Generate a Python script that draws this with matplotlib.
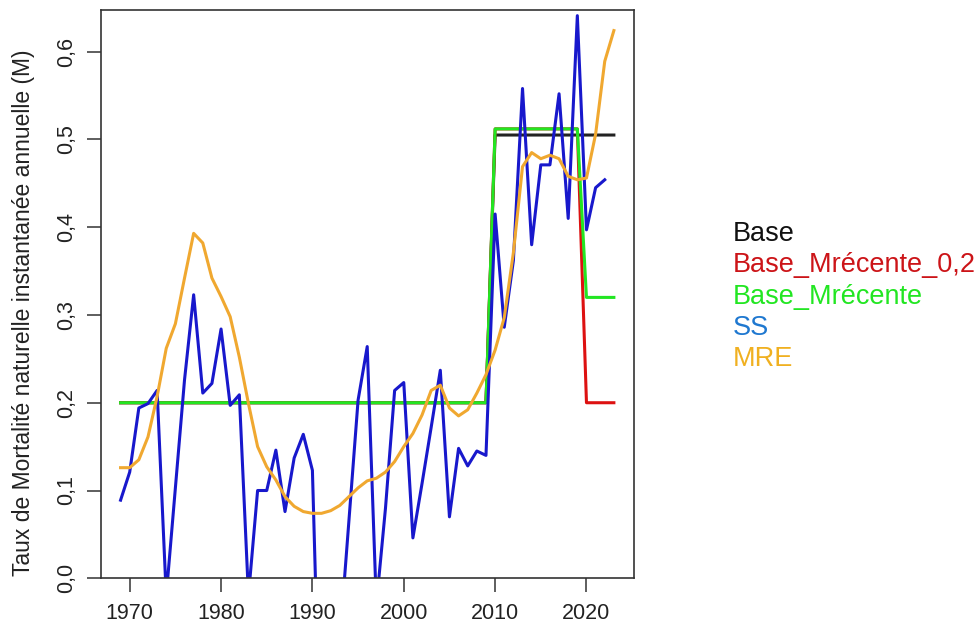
import matplotlib
matplotlib.use("Agg")
import matplotlib.pyplot as plt
import numpy as np

plt.rcParams['font.family'] = ['Liberation Sans', 'DejaVu Sans']

years = np.arange(1969, 2024)
years_ss = np.arange(1969, 2023)

# Base, Base_Mrécente_0,2 and Base_Mrécente are step series
base = [0.2] * 41 + [0.505] * 14
base_mrec_02 = [0.2] * 41 + [0.512] * 10 + [0.2] * 4
base_mrec = [0.2] * 41 + [0.512] * 10 + [0.32] * 4

ss = [0.089, 0.121, 0.194, 0.199, 0.214, -0.02, 0.103, 0.226, 0.323, 0.211,
      0.222, 0.284, 0.197, 0.209, -0.02, 0.100, 0.100, 0.146, 0.076, 0.137,
      0.164, 0.123, -0.25, -0.20, -0.07, 0.066, 0.203, 0.264, -0.03, 0.080,
      0.214, 0.223, 0.046, 0.108, 0.172, 0.237, 0.070, 0.148, 0.128, 0.145,
      0.140, 0.415, 0.286, 0.362, 0.558, 0.380, 0.471, 0.471, 0.552, 0.410,
      0.641, 0.397, 0.445, 0.454]

mre = [0.126, 0.126, 0.135, 0.161, 0.207, 0.262, 0.290, 0.342, 0.393, 0.382,
       0.342, 0.321, 0.298, 0.252, 0.199, 0.150, 0.127, 0.112, 0.093, 0.082,
       0.076, 0.074, 0.074, 0.077, 0.083, 0.093, 0.103, 0.111, 0.114, 0.121,
       0.133, 0.150, 0.165, 0.186, 0.214, 0.220, 0.194, 0.185, 0.192, 0.211,
       0.232, 0.260, 0.297, 0.371, 0.469, 0.485, 0.478, 0.482, 0.478, 0.458,
       0.454, 0.456, 0.506, 0.589, 0.624]

legend_names = ["Base", "Base_Mrécente_0,2", "Base_Mrécente", "SS", "MRE"]
legend_colors = ["#111111", "#cc1418", "#22e622", "#1f78d0", "#f0b020"]

xticks = [1970, 1980, 1990, 2000, 2010, 2020]
yticks = [0.0, 0.1, 0.2, 0.3, 0.4, 0.5, 0.6]
ytick_labels = ["0,0", "0,1", "0,2", "0,3", "0,4", "0,5", "0,6"]

fig = plt.figure(figsize=(9.79, 6.3), dpi=100)
ax = fig.add_axes([0.1030, 0.0821, 0.5442, 0.9028])

lw = 2.2
ax.plot(years, base, color="#222222", lw=lw)
ax.plot(years, base_mrec_02, color="#dd1111", lw=lw)
ax.plot(years, base_mrec, color="#22e622", lw=lw)
ax.plot(years_ss, ss, color="#1818cc", lw=lw)
ax.plot(years, mre, color="#f0a830", lw=lw)

ax.set_xlim(1966.84, 2025.16)
ax.set_ylim(0, 0.648)

ax.set_xticks(xticks)
ax.set_yticks(yticks, labels=ytick_labels, rotation=90, va="center")
ax.tick_params(axis="both", length=10, width=1.1, color="#333333",
               labelsize=15.5, labelcolor="#222222")
ax.tick_params(axis="x", pad=8)
ax.tick_params(axis="y", pad=7)
for s in ax.spines.values():
    s.set_linewidth(1.2)
    s.set_color("#333333")

fig.text(24 / 979, 1 - 313 / 630,
         "Taux de Mortalité naturelle instantanée annuelle (M)",
         rotation=90, ha="center", va="center", fontsize=16.5, color="#222222")

for i, (name, col) in enumerate(zip(legend_names, legend_colors)):
    fig.text(733 / 979, 1 - (234 + i * 31.3) / 630, name,
             color=col, fontsize=19.5, ha="left", va="center")

fig.savefig("out.png", dpi=100)
